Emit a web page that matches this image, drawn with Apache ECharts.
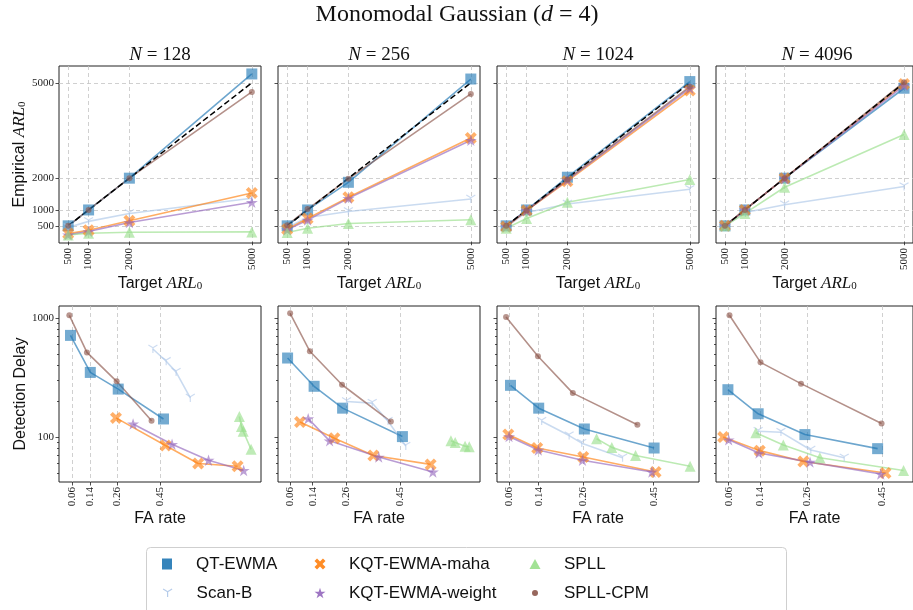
<!DOCTYPE html>
<html>
<head>
<meta charset="utf-8">
<script src="https://cdn.jsdelivr.net/npm/echarts@6/dist/echarts.min.js"></script>
<style>
html, body { margin: 0; padding: 0; background: #fff; }
#chart { width: 913px; height: 610px; }
</style>
</head>
<body>
<div id="chart"></div>
<script>
// target ARL0 on the x axis of the top row
var targets = [500, 1000, 2000, 5000];
var panelN = ['128', '256', '1024', '4096'];
var faTicks = [0.06, 0.14, 0.26, 0.45];
var delayTicks = [100, 1000];
var delayMinor = [50, 60, 70, 80, 90, 200, 300, 400, 500, 600, 700, 800, 900];
var faRange = [[0.002, 0.899], [0.017, 0.733], [0.0276, 0.572], [0.0277, 0.529]];

// empirical ARL0, one row per panel (N = 128, 256, 1024, 4096)
var arlQt = [[500, 1000, 2000, 5280], [500, 1000, 1870, 5120], [500, 1000, 2030, 5040], [500, 1000, 2000, 4830]];
var arlScanB = [[450, 640, 890, 1370], [446, 763, 953, 1345], [470, 922, 1186, 1650], [500, 922, 1165, 1736]];
var arlMaha = [[256, 363, 658, 1536], [395, 732, 1397, 3267], [470, 980, 1905, 4756], [500, 1000, 2000, 4960]];
var arlWeight = [[215, 320, 605, 1240], [373, 680, 1365, 3194], [480, 990, 1940, 4830], [500, 1000, 2000, 4915]];
var arlSpll = [[215, 268, 300, 310], [288, 426, 574, 690], [426, 732, 1240, 1958], [500, 890, 1714, 3375]];
var arlCpm = [[500, 1000, 2000, 4715], [520, 1028, 1980, 4650], [500, 980, 1960, 4880], [500, 1000, 2000, 5020]];

// false alarm rate and detection delay, one row per panel
var faQt = [[0.053, 0.141, 0.265, 0.466], [0.051, 0.145, 0.246, 0.458], [0.064, 0.14, 0.263, 0.451], [0.058, 0.135, 0.254, 0.439]];
var delayQt = [[714, 349, 253, 142], [461, 267, 175, 101], [272, 175, 117, 81], [250, 157, 105, 80]];
var faScanB = [[0.419, 0.478, 0.522, 0.585], [0.26, 0.351, 0.407, 0.47], [0.148, 0.222, 0.256, 0.366], [0.135, 0.193, 0.269, 0.354]];
var delayScanB = [[549, 433, 351, 213], [199, 193, 136, 84], [136, 103, 89, 67], [112, 110, 78, 67]];
var faMaha = [[0.255, 0.475, 0.62, 0.795], [0.095, 0.217, 0.355, 0.558], [0.058, 0.136, 0.26, 0.455], [0.046, 0.139, 0.25, 0.459]];
var delayMaha = [[145, 85, 60, 57], [134, 98, 70, 59], [105, 81, 68, 51], [100, 77, 62.5, 50]];
var faWeight = [[0.331, 0.504, 0.666, 0.822], [0.124, 0.2, 0.374, 0.566], [0.06, 0.139, 0.258, 0.445], [0.06, 0.137, 0.267, 0.447]];
var delayWeight = [[129, 87, 64, 52.5], [143, 93, 68, 51], [101, 78, 64, 51], [95, 73.5, 61.7, 49]];
var faSpll = [[0.803, 0.812, 0.82, 0.855], [0.63, 0.645, 0.68, 0.695], [0.296, 0.337, 0.401, 0.548], [0.129, 0.199, 0.292, 0.505]];
var delaySpll = [[149, 123, 112, 79], [93, 90, 84, 83], [97, 82, 70, 57], [109, 86, 67, 52.5]];
var faCpm = [[0.048, 0.126, 0.258, 0.413], [0.06, 0.13, 0.244, 0.417], [0.052, 0.138, 0.232, 0.406], [0.062, 0.141, 0.244, 0.449]];
var delayCpm = [[1053, 514, 294, 137], [1094, 525, 275, 135], [1020, 477, 234, 127], [1053, 424, 281, 130]];

var SERIF = '"Liberation Serif", "DejaVu Serif", serif';
var SANS = '"Liberation Sans", Arial, sans-serif';

var xPath = 'path://M14.95 0.81 L19.19 5.05 L14.24 10 L19.19 14.95 L14.95 19.19 L10 14.24 L5.05 19.19 L0.81 14.95 L5.76 10 L0.81 5.05 L5.05 0.81 L10 5.76 Z';
var starPath = 'path://M10 0 L12.23 6.93 L19.51 6.91 L13.61 11.17 L15.88 18.09 L10 13.8 L4.12 18.09 L6.39 11.17 L0.49 6.91 L7.77 6.93 Z';
var triDownPath = 'path://M10 10 L10 20 M10 10 L1.34 5 M10 10 L18.66 5';

var methods = [
    {name: 'QT-EWMA', color: '#1f77b4', symbol: 'rect', size: 11, lw: 10, lh: 11, arl: arlQt, fa: faQt, delay: delayQt},
    {name: 'Scan-B', color: '#aec7e8', symbol: triDownPath, size: 9, lw: 9, lh: 9, stroke: true, arl: arlScanB, fa: faScanB, delay: delayScanB},
    {name: 'KQT-EWMA-maha', color: '#ff7f0e', symbol: xPath, size: 12, lw: 11, lh: 11, arl: arlMaha, fa: faMaha, delay: delayMaha},
    {name: 'KQT-EWMA-weight', color: '#9467bd', symbol: starPath, size: 12, lw: 11, lh: 11, arl: arlWeight, fa: faWeight, delay: delayWeight},
    {name: 'SPLL', color: '#98df8a', symbol: 'triangle', size: 11, lw: 11, lh: 10, arl: arlSpll, fa: faSpll, delay: delaySpll},
    {name: 'SPLL-CPM', color: '#8c564b', symbol: 'circle', size: 6, lw: 6, lh: 6, arl: arlCpm, fa: faCpm, delay: delayCpm}
];

var gridLine = {show: true, lineStyle: {color: '#c4c4c4', width: 0.8, type: [4, 3]}};
var tickStyle = {lineStyle: {color: '#222', width: 0.8}};
var plainLabel = function (v) { return String(v); };
var arlName = '{t|Target }{m|ARL}{s|0}';
var nameRich = {
    t: {fontFamily: SANS, fontSize: 16, color: '#111'},
    m: {fontFamily: SERIF, fontStyle: 'italic', fontSize: 17, color: '#111'},
    s: {fontFamily: SERIF, fontSize: 11, color: '#111', verticalAlign: 'bottom', padding: [6, 0, 0, 0]}
};

var grids = [], xAxes = [], yAxes = [], series = [], graphics = [];

for (var p = 0; p < 4; p++) {
    var left = 59 + 219 * p;
    grids[p] = {left: left, top: 66, width: 202, height: 177, show: true, borderColor: '#222', borderWidth: 1};
    grids[4 + p] = {left: left, top: 306, width: 202, height: 176, show: true, borderColor: '#222', borderWidth: 1};

    xAxes[p] = {
        gridIndex: p, type: 'value', min: 275, max: 5225,
        axisLine: {show: false},
        axisTick: Object.assign({customValues: targets, length: 3.5}, tickStyle),
        axisLabel: {customValues: targets, rotate: 90, margin: 5, fontFamily: SERIF, fontSize: 11, color: '#222', formatter: plainLabel},
        splitLine: gridLine,
        name: arlName, nameLocation: 'middle', nameGap: 32,
        nameTextStyle: {rich: nameRich}
    };
    xAxes[4 + p] = {
        gridIndex: 4 + p, type: 'value', min: faRange[p][0], max: faRange[p][1],
        axisLine: {show: false},
        axisTick: Object.assign({customValues: faTicks, length: 3.5}, tickStyle),
        axisLabel: {customValues: faTicks, rotate: 90, margin: 5, fontFamily: SERIF, fontSize: 11, color: '#222',
            formatter: function (v) { return v.toFixed(2); }},
        splitLine: gridLine,
        name: 'FA rate', nameLocation: 'middle', nameGap: 29,
        nameTextStyle: {fontFamily: SANS, fontSize: 16, color: '#111'}
    };

    yAxes[p] = {
        gridIndex: p, type: 'value', min: -40, max: 5530,
        axisLine: {show: false},
        axisTick: Object.assign({customValues: targets, length: 3.5}, tickStyle),
        axisLabel: {show: p === 0, customValues: targets, margin: 5, fontFamily: SERIF, fontSize: 11, color: '#222', formatter: plainLabel},
        splitLine: gridLine,
        name: p === 0 ? '{t|Empirical }{m|ARL}{s|0}' : '', nameLocation: 'middle', nameGap: 30,
        nameTextStyle: {rich: nameRich}
    };
    yAxes[4 + p] = {
        gridIndex: 4 + p, type: 'log', min: 42, max: 1260,
        axisLine: {show: false},
        axisTick: Object.assign({customValues: delayTicks, length: 3.5}, tickStyle),
        axisLabel: {show: p === 0, customValues: delayTicks, margin: 5, fontFamily: SERIF, fontSize: 11, color: '#222', formatter: plainLabel},
        splitLine: {show: false},
        name: p === 0 ? 'Detection Delay' : '', nameLocation: 'middle', nameGap: 26,
        nameTextStyle: {fontFamily: SANS, fontSize: 16, color: '#111'}
    };
    // minor ticks of the log axis
    yAxes[8 + p] = {
        gridIndex: 4 + p, type: 'log', min: 42, max: 1260, position: 'left',
        axisLine: {show: false},
        axisTick: Object.assign({customValues: delayMinor, length: 2}, tickStyle),
        axisLabel: {show: false},
        splitLine: {show: false}
    };

    methods.forEach(function (m) {
        var base = {
            name: m.name, type: 'line',
            symbol: m.symbol, symbolSize: m.size, symbolKeepAspect: true,
            itemStyle: {color: m.color, opacity: 0.62, borderColor: m.color, borderWidth: m.stroke ? 1.2 : 0},
            lineStyle: {color: m.color, width: 1.6, opacity: 0.65},
            emphasis: {disabled: true}
        };
        series.push(Object.assign({}, base, {
            xAxisIndex: p, yAxisIndex: p,
            data: targets.map(function (t, i) { return [t, m.arl[p][i]]; })
        }));
        series.push(Object.assign({}, base, {
            xAxisIndex: 4 + p, yAxisIndex: 4 + p,
            data: m.fa[p].map(function (f, i) { return [f, m.delay[p][i]]; })
        }));
    });

    // reference line: empirical = target
    series.push({
        type: 'line', xAxisIndex: p, yAxisIndex: p, symbol: 'none',
        data: targets.map(function (t) { return [t, t]; }),
        lineStyle: {color: '#000', width: 1.5, type: [6, 3]},
        emphasis: {disabled: true}
    });

    graphics.push({
        type: 'text', x: left + 101, y: 55,
        style: {
            text: '{i|N}{r| = ' + panelN[p] + '}', align: 'center', verticalAlign: 'middle',
            rich: {
                i: {fontFamily: SERIF, fontStyle: 'italic', fontSize: 19, fill: '#111'},
                r: {fontFamily: SERIF, fontSize: 19, fill: '#111'}
            }
        }
    });
}

graphics.push({
    type: 'text', x: 457, y: 15,
    style: {
        text: '{r|Monomodal Gaussian (}{i|d}{r| = 4)}', align: 'center', verticalAlign: 'middle',
        rich: {
            r: {fontFamily: SERIF, fontSize: 24, fill: '#111'},
            i: {fontFamily: SERIF, fontStyle: 'italic', fontSize: 24, fill: '#111'}
        }
    }
});
graphics.push({
    type: 'rect', z: -1,
    shape: {x: 146.5, y: 547.5, width: 640, height: 80, r: 4},
    style: {fill: '#fff', stroke: '#cfcfcf', lineWidth: 1}
});

// one legend per entry so each marker keeps its own size; 3 columns x 2 rows
var legendCx = [167, 167, 320, 320, 535, 535];
var legendCy = [564, 593, 564, 593, 564, 593];
var legends = methods.map(function (m, k) {
    var item = {name: m.name, icon: m.symbol, itemStyle: {opacity: 0.9}};
    if (m.stroke) item.itemStyle.borderWidth = 1.2;
    return {
        orient: 'horizontal', padding: 0,
        left: legendCx[k] - m.lw / 2, top: legendCy[k] - 10,
        itemWidth: m.lw, itemHeight: m.lh,
        selectedMode: false,
        textStyle: {fontFamily: SANS, fontSize: 17, lineHeight: 20, color: '#111', padding: [0, 0, 0, 24 - m.lw / 2]},
        data: [item]
    };
});

var chart = echarts.init(document.getElementById('chart'));
chart.setOption({
    animation: false,
    backgroundColor: '#fff',
    grid: grids,
    xAxis: xAxes,
    yAxis: yAxes,
    legend: legends,
    graphic: graphics,
    series: series
});
</script>
</body>
</html>
